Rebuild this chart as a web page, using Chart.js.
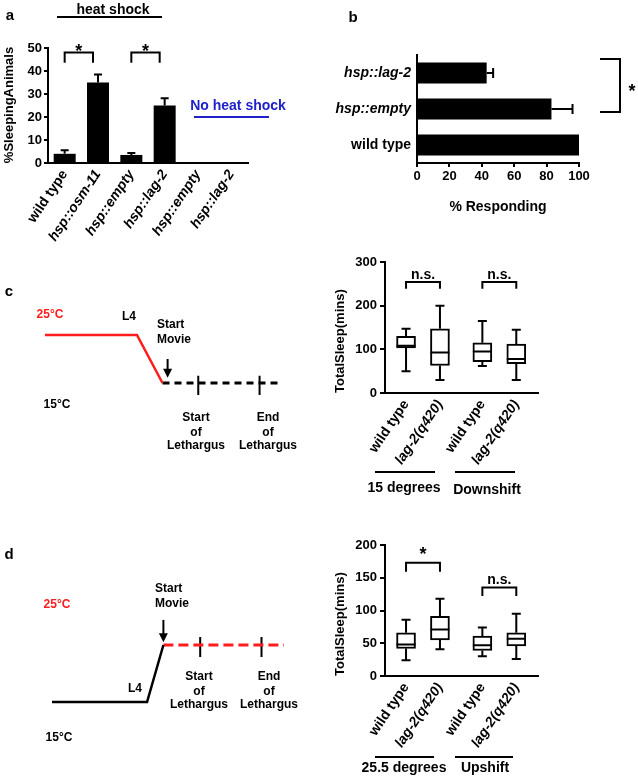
<!DOCTYPE html>
<html><head><meta charset="utf-8">
<script src="https://cdn.jsdelivr.net/npm/chart.js@4.4.1/dist/chart.umd.min.js"></script>
<style>
html,body{margin:0;padding:0;background:#fff;}
#wrap{position:relative;width:638px;height:778px;overflow:hidden;background:#fff;}
#wrap canvas{position:absolute;left:0;top:0;}
</style></head>
<body><div id="wrap">
<canvas id="cA" width="638" height="778"></canvas>
<canvas id="cB" width="638" height="778"></canvas>
<canvas id="cCs" width="638" height="778"></canvas>
<canvas id="cCb" width="638" height="778"></canvas>
<canvas id="cDs" width="638" height="778"></canvas>
<canvas id="cDb" width="638" height="778"></canvas>
</div>
<script>
// ---------------- DATA ----------------
// Panel a: % sleeping animals
const sleepCategories = ['wild type','hsp::osm-11','hsp::empty','hsp::lag-2','hsp::empty','hsp::lag-2'];
const sleepPercent = [4, 35, 3.5, 25, 0, 0];
const sleepErr = [1.5, 3.5, 0.9, 3.2, 0, 0];
const sleepTicks = [0, 10, 20, 30, 40, 50];

// Panel b: % responding
const respondCategories = ['hsp::lag-2','hsp::empty','wild type'];
const respondPercent = [43, 83, 100];
const respondErr = [4, 13, 0];
const respondTicks = [0, 20, 40, 60, 80, 100];

// Panels c/d: total sleep box plots
const boxCategories = ['wild type','lag-2(q420)','wild type','lag-2(q420)'];
// c: 15 degrees / Downshift
const downMin = [50, 30, 62, 30];
const downQ1  = [103, 63, 72, 67];
const downMed = [108, 93, 95, 78];
const downQ3  = [130, 147, 115, 112];
const downMax = [147, 200, 165, 145];
const downTicks = [0, 100, 200, 300];
// d: 25.5 degrees / Upshift
const upMin = [24, 41, 30, 26];
const upQ1  = [42, 55, 39, 46];
const upMed = [48, 71, 47, 57];
const upQ3  = [66, 91, 61, 66];
const upMax = [86, 118, 74, 95];
const upTicks = [0, 50, 100, 150, 200];

// Schematics (time in arbitrary units, temperature in °C)
const downshiftTime = [0, 9, 11.5];
const downshiftTemp = [25, 25, 15];
const downMovieTime = [11.5, 23];
const downMovieTemp = [15, 15];
const downLethargus = [15, 21];
const downMovieStart = 12;

const upshiftTime = [0, 9.3, 10.9];
const upshiftTemp = [15, 15, 25];
const upMovieTime = [10.9, 22.7];
const upMovieTemp = [25, 25];
const upLethargus = [14.5, 20.5];
const upMovieStart = 10.9;

// ---------------- LAYOUT / STYLE ----------------
const W = 638, H = 778;
const FONT = "'Liberation Sans', Arial, Helvetica, sans-serif";
const RED = '#ff1c1c', BLUE = '#1e22c8';
const boxPositions = [1, 2, 3.25, 4.25];
Chart.defaults.font.family = FONT;
Chart.defaults.font.weight = 'bold';
Chart.defaults.color = '#000';

function pad(a, yW, xH) {
  return {left: a.l - yW, top: a.t, right: W - a.r, bottom: H - a.b - xH};
}
function glyphText(ctx, text, cx, cy, size, color, align, rot) {
  ctx.save();
  ctx.font = 'bold ' + size + 'px ' + FONT;
  ctx.fillStyle = color || '#000';
  ctx.textAlign = align || 'center';
  ctx.textBaseline = 'alphabetic';
  const m = ctx.measureText(text);
  ctx.translate(cx, cy);
  if (rot) ctx.rotate(rot);
  ctx.fillText(text, 0, (m.actualBoundingBoxAscent - m.actualBoundingBoxDescent) / 2);
  ctx.restore();
}
function decor(spec) {
  return {
    id: 'decor',
    afterDraw(chart) {
      const ctx = chart.ctx;
      ctx.save();
      ctx.lineCap = 'butt';
      (spec.lines || []).forEach(l => {
        ctx.strokeStyle = l[4] || '#000'; ctx.lineWidth = l[5] || 2;
        ctx.beginPath(); ctx.moveTo(l[0], l[1]); ctx.lineTo(l[2], l[3]); ctx.stroke();
      });
      (spec.brackets || []).forEach(b => {
        const xs = chart.scales.x, ys = chart.scales.y;
        const x1 = xs.getPixelForValue(b.from) + (b.dx1 || 0);
        const x2 = xs.getPixelForValue(b.to) + (b.dx2 || 0);
        const yt = ys.getPixelForValue(b.top), yb = ys.getPixelForValue(b.bottom);
        ctx.strokeStyle = '#000'; ctx.lineWidth = 2; ctx.lineJoin = 'miter';
        ctx.beginPath(); ctx.moveTo(x1, yb); ctx.lineTo(x1, yt); ctx.lineTo(x2, yt); ctx.lineTo(x2, yb); ctx.stroke();
        glyphText(ctx, b.label, (x1 + x2) / 2, yt - b.gap, b.size);
      });
      if (spec.arrow) {
        const a = spec.arrow, xs = chart.scales.x, ys = chart.scales.y;
        const x = xs.getPixelForValue(a.x), y1 = ys.getPixelForValue(a.from), y2 = ys.getPixelForValue(a.to);
        ctx.strokeStyle = '#000'; ctx.fillStyle = '#000'; ctx.lineWidth = 2;
        ctx.beginPath(); ctx.moveTo(x, y1); ctx.lineTo(x, y2 - 6); ctx.stroke();
        ctx.beginPath(); ctx.moveTo(x - 4.5, y2 - 9); ctx.lineTo(x + 4.5, y2 - 9); ctx.lineTo(x, y2); ctx.closePath(); ctx.fill();
      }
      (spec.texts || []).forEach(t => glyphText(ctx, t.t, t.x, t.y, t.size || 12, t.color, t.align, t.rot));
      ctx.restore();
    }
  };
}
function errorBars(cap) {
  return {
    id: 'errorBars',
    afterDatasetsDraw(chart) {
      const ctx = chart.ctx;
      const horiz = chart.options.indexAxis === 'y';
      const vs = horiz ? chart.scales.x : chart.scales.y;
      chart.data.datasets.forEach((ds, di) => {
        if (!ds.errPlus) return;
        const meta = chart.getDatasetMeta(di);
        meta.data.forEach((el, i) => {
          const e = ds.errPlus[i];
          if (!e) return;
          const p0 = vs.getPixelForValue(ds.data[i]), p1 = vs.getPixelForValue(ds.data[i] + e);
          ctx.save(); ctx.strokeStyle = '#000'; ctx.lineWidth = 2; ctx.beginPath();
          if (horiz) {
            ctx.moveTo(p0, el.y); ctx.lineTo(p1, el.y);
            ctx.moveTo(p1, el.y - cap); ctx.lineTo(p1, el.y + cap);
          } else {
            ctx.moveTo(el.x, p0); ctx.lineTo(el.x, p1);
            ctx.moveTo(el.x - cap, p1); ctx.lineTo(el.x + cap, p1);
          }
          ctx.stroke(); ctx.restore();
        });
      });
    }
  };
}
const boxPlot = {
  id: 'boxPlot',
  afterDatasetsDraw(chart) {
    const ctx = chart.ctx, ys = chart.scales.y;
    chart.data.datasets.forEach((ds, di) => {
      if (!ds.stats) return;
      const s = ds.stats, meta = chart.getDatasetMeta(di);
      meta.data.forEach((el, i) => {
        const x = el.x, hw = el.width / 2, cw = 4.5;
        const yMin = ys.getPixelForValue(s.min[i]), yQ1 = ys.getPixelForValue(s.q1[i]);
        const yMed = ys.getPixelForValue(s.med[i]), yQ3 = ys.getPixelForValue(s.q3[i]);
        const yMax = ys.getPixelForValue(s.max[i]);
        ctx.save(); ctx.strokeStyle = '#000'; ctx.lineWidth = 2; ctx.beginPath();
        ctx.moveTo(x - hw, yMed); ctx.lineTo(x + hw, yMed);
        ctx.moveTo(x, yQ3); ctx.lineTo(x, yMax); ctx.moveTo(x - cw, yMax); ctx.lineTo(x + cw, yMax);
        ctx.moveTo(x, yQ1); ctx.lineTo(x, yMin); ctx.moveTo(x - cw, yMin); ctx.lineTo(x + cw, yMin);
        ctx.stroke(); ctx.restore();
      });
    });
  }
};
const baseOpts = {
  responsive: false, animation: false, devicePixelRatio: 1,
  plugins: {legend: {display: false}, tooltip: {enabled: false}}
};
const axisBorder = {display: true, color: '#000', width: 2};
const tickMarks = len => ({drawOnChartArea: false, drawTicks: true, tickLength: len, color: '#000', lineWidth: 2});
const noGrid = {display: false, drawTicks: false};
const italicIf = (labels, size) => c => ({family: FONT, size: size, weight: 'bold',
  style: (labels[c.index] || '').match(/hsp|lag/) ? 'italic' : 'normal'});

// ---------------- PANEL a ----------------
const A_AREA = {l: 48, r: 248, t: 48, b: 163};
new Chart(document.getElementById('cA'), {
  type: 'bar',
  data: {labels: sleepCategories, datasets: [{
    data: sleepPercent, errPlus: sleepErr, backgroundColor: '#000', borderWidth: 0,
    barPercentage: 0.66, categoryPercentage: 1
  }]},
  options: Object.assign({}, baseOpts, {
    layout: {padding: pad(A_AREA, 46, 90)},
    scales: {
      x: {grid: noGrid, border: axisBorder, afterFit: s => { s.height = 90; },
          ticks: {color: '#000', padding: 4, minRotation: 56, maxRotation: 56, autoSkip: false,
                  font: italicIf(sleepCategories, 14)}},
      y: {min: 0, max: 50, grid: tickMarks(4), border: axisBorder, afterFit: s => { s.width = 46; },
          afterBuildTicks: s => { s.ticks = sleepTicks.map(v => ({value: v})); },
          ticks: {color: '#000', padding: 2, font: {family: FONT, size: 13, weight: 'bold'}}}
    }
  }),
  plugins: [errorBars(4), decor({
    lines: [[57, 17, 162, 17, '#000', 2], [194, 117, 269, 117, BLUE, 2]],
    brackets: [
      {from: 0, to: 1, top: 48, bottom: 43.6, dx2: -5, label: '*', gap: 5, size: 18},
      {from: 2, to: 3, top: 48, bottom: 43.6, dx2: -5, label: '*', gap: 5, size: 18}
    ],
    texts: [
      {t: 'a', x: 10, y: 16, size: 15},
      {t: 'heat shock', x: 113, y: 8, size: 14},
      {t: 'No heat shock', x: 238, y: 104, size: 14, color: BLUE},
      {t: '%SleepingAnimals', x: 10, y: 105, size: 13, rot: -Math.PI / 2}
    ]
  })]
});

// ---------------- PANEL b ----------------
const B_AREA = {l: 417, r: 579, t: 55, b: 163};
new Chart(document.getElementById('cB'), {
  type: 'bar',
  data: {labels: respondCategories, datasets: [{
    data: respondPercent, errPlus: respondErr, backgroundColor: '#000', borderWidth: 0,
    barPercentage: 0.58, categoryPercentage: 1
  }]},
  options: Object.assign({}, baseOpts, {
    indexAxis: 'y',
    layout: {padding: pad(B_AREA, 100, 53)},
    scales: {
      x: {min: 0, max: 100, grid: tickMarks(4), border: axisBorder, afterFit: s => { s.height = 53; },
          afterBuildTicks: s => { s.ticks = respondTicks.map(v => ({value: v})); },
          ticks: {color: '#000', padding: 2, font: {family: FONT, size: 13, weight: 'bold'}},
          title: {display: true, text: '% Responding', color: '#000', padding: 0,
                  font: {family: FONT, size: 14, weight: 'bold'}}},
      y: {grid: noGrid, border: axisBorder, afterFit: s => { s.width = 100; },
          ticks: {color: '#000', padding: 6, font: italicIf(respondCategories, 14)}}
    }
  }),
  plugins: [errorBars(5), decor({
    lines: [[600, 59, 621, 59, '#000', 2], [620, 59, 620, 112, '#000', 2], [600, 112, 621, 112, '#000', 2]],
    texts: [
      {t: 'b', x: 353, y: 16, size: 15},
      {t: '*', x: 632, y: 87, size: 18}
    ]
  })]
});

// ---------------- Box plot panels ----------------
function boxChart(id, area, yMax, ticks, stats, spec) {
  new Chart(document.getElementById(id), {
    type: 'bar',
    data: {datasets: [{
      data: boxPositions.map((p, i) => ({x: p, y: [stats.q1[i], stats.q3[i]]})),
      stats: stats, backgroundColor: '#fff', borderColor: '#000', borderWidth: 2,
      borderSkipped: false, barThickness: 19
    }]},
    options: Object.assign({}, baseOpts, {
      layout: {padding: pad(area, 52, 100)},
      scales: {
        x: {type: 'linear', min: 0.38, max: 4.89, offset: false, grid: {display: false, drawTicks: false, offset: false},
            border: axisBorder, afterFit: s => { s.height = 100; },
            afterBuildTicks: s => { s.ticks = boxPositions.map(v => ({value: v})); },
            ticks: {callback: (v, i) => boxCategories[i], autoSkip: false, minRotation: 56, maxRotation: 56,
                    padding: 4, color: '#000', font: italicIf(boxCategories, 14)}},
        y: {min: 0, max: yMax, grid: tickMarks(5), border: axisBorder, afterFit: s => { s.width = 52; },
            afterBuildTicks: s => { s.ticks = ticks.map(v => ({value: v})); },
            ticks: {color: '#000', padding: 3, font: {family: FONT, size: 13, weight: 'bold'}},
            title: {display: true, text: 'TotalSleep(mins)', align: 'start', color: '#000', padding: 0,
                    font: {family: FONT, size: 13, weight: 'bold'}}}
      }
    }),
    plugins: [boxPlot, decor(spec)]
  });
}
boxChart('cCb', {l: 385, r: 538, t: 262, b: 393}, 300, downTicks,
  {min: downMin, q1: downQ1, med: downMed, q3: downQ3, max: downMax}, {
    brackets: [
      {from: 1, to: 2, top: 254, bottom: 239, label: 'n.s.', gap: 7, size: 14},
      {from: 3.25, to: 4.25, top: 254, bottom: 239, label: 'n.s.', gap: 7, size: 14}
    ],
    lines: [[375, 472, 435, 472, '#000', 2], [455, 472, 515, 472, '#000', 2]],
    texts: [
      {t: '15 degrees', x: 404, y: 488, size: 14},
      {t: 'Downshift', x: 487, y: 488, size: 14}
    ]
  });
boxChart('cDb', {l: 385, r: 538, t: 545, b: 676}, 200, upTicks,
  {min: upMin, q1: upQ1, med: upMed, q3: upQ3, max: upMax}, {
    brackets: [
      {from: 1, to: 2, top: 173, bottom: 159, label: '*', gap: 12, size: 18},
      {from: 3.25, to: 4.25, top: 135, bottom: 122, label: 'n.s.', gap: 7.5, size: 14}
    ],
    lines: [[375, 757, 434, 757, '#000', 2], [455, 757, 513, 757, '#000', 2]],
    texts: [
      {t: '25.5 degrees', x: 404, y: 768, size: 14},
      {t: 'Upshift', x: 485, y: 768, size: 14}
    ]
  });

// ---------------- Schematics ----------------
function lineDs(xs, ys, color, width, dash) {
  return {data: xs.map((x, i) => ({x: x, y: ys[i]})), showLine: true, borderColor: color,
          borderWidth: width, borderDash: dash || [], pointRadius: 0, clip: false, tension: 0,
          borderJoinStyle: 'miter', borderCapStyle: 'butt'};
}
function schematic(id, area, xMax, shiftT, shiftY, shiftColor, movieT, movieY, movieColor, dash,
                   lethargus, markUp, markDown, spec) {
  const ds = [lineDs(shiftT, shiftY, shiftColor, 2.5), lineDs(movieT, movieY, movieColor, 3, dash)];
  lethargus.forEach(t => ds.push(lineDs([t, t], [movieY[0] + markUp, movieY[0] - markDown], '#000', 2)));
  new Chart(document.getElementById(id), {
    type: 'scatter',
    data: {datasets: ds},
    options: Object.assign({}, baseOpts, {
      layout: {padding: {left: area.l, top: area.t, right: W - area.r, bottom: H - area.b}},
      scales: {x: {type: 'linear', display: false, min: 0, max: xMax},
               y: {type: 'linear', display: false, min: 15, max: 25}}
    }),
    plugins: [decor(spec)]
  });
}
schematic('cCs', {l: 45, r: 280, t: 335, b: 383}, 23,
  downshiftTime, downshiftTemp, RED, downMovieTime, downMovieTemp, '#000', [7, 5],
  downLethargus, 1.5, 2.5, {
    arrow: {x: downMovieStart, from: 20, to: 16.1},
    texts: [
      {t: 'c', x: 9, y: 292, size: 15},
      {t: '25°C', x: 50, y: 313, size: 12, color: RED},
      {t: 'L4', x: 129, y: 315, size: 12},
      {t: 'Start', x: 157, y: 323, size: 12, align: 'left'},
      {t: 'Movie', x: 157, y: 338, size: 12, align: 'left'},
      {t: '15°C', x: 57, y: 403, size: 12},
      {t: 'Start', x: 196, y: 416, size: 12}, {t: 'of', x: 196, y: 431, size: 12},
      {t: 'Lethargus', x: 196, y: 446, size: 12},
      {t: 'End', x: 268, y: 416, size: 12}, {t: 'of', x: 268, y: 431, size: 12},
      {t: 'Lethargus', x: 268, y: 446, size: 12}
    ]
  });
schematic('cDs', {l: 52, r: 284, t: 645, b: 702}, 22.7,
  upshiftTime, upshiftTemp, '#000', upMovieTime, upMovieTemp, RED, [10, 5],
  upLethargus, 1.4, 2.1, {
    arrow: {x: upMovieStart, from: 29.4, to: 25.5},
    texts: [
      {t: 'd', x: 9, y: 553, size: 15},
      {t: 'Start', x: 155, y: 587, size: 12, align: 'left'},
      {t: 'Movie', x: 155, y: 602, size: 12, align: 'left'},
      {t: '25°C', x: 57, y: 603, size: 12, color: RED},
      {t: 'L4', x: 135, y: 687, size: 12},
      {t: '15°C', x: 59, y: 736, size: 12},
      {t: 'Start', x: 199, y: 675, size: 12}, {t: 'of', x: 199, y: 690, size: 12},
      {t: 'Lethargus', x: 199, y: 705, size: 12},
      {t: 'End', x: 269, y: 675, size: 12}, {t: 'of', x: 269, y: 690, size: 12},
      {t: 'Lethargus', x: 269, y: 705, size: 12}
    ]
  });
</script>
</body></html>
